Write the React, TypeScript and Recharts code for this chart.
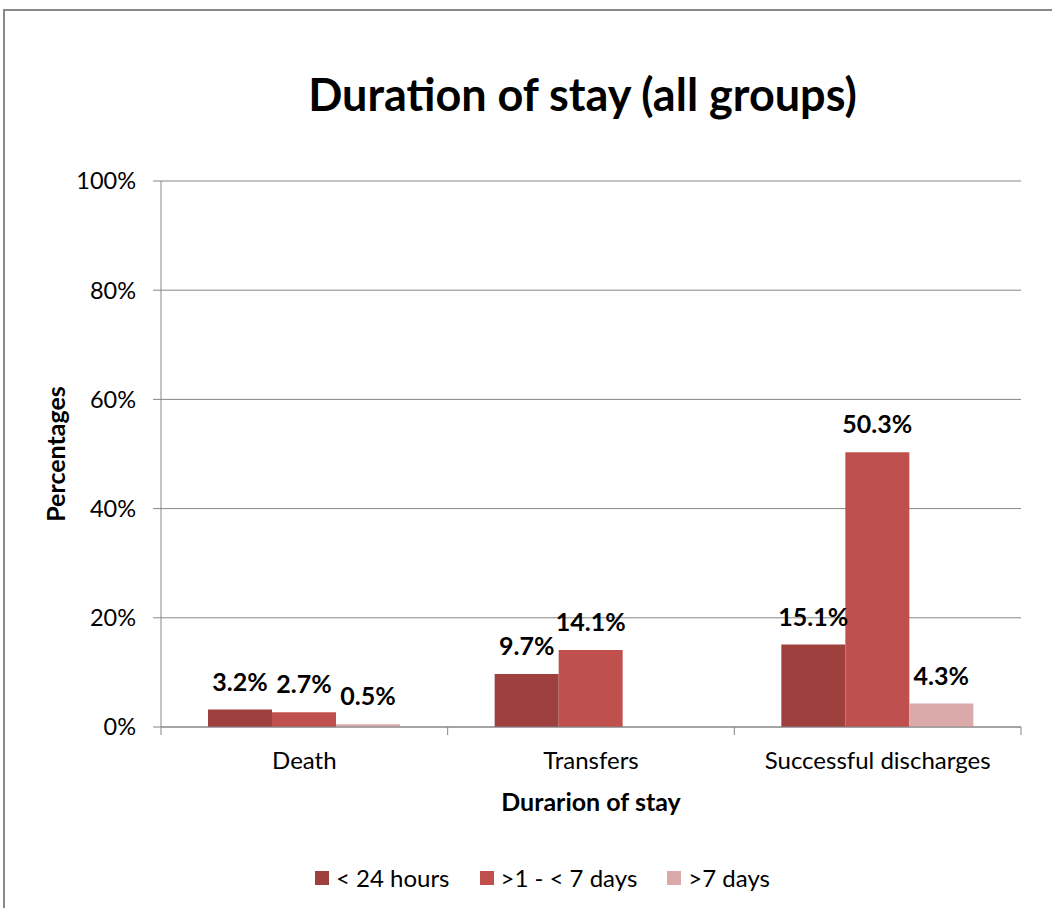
import React from 'react';
import { BarChart, Bar, XAxis, YAxis, CartesianGrid, Legend, LabelList, Label } from 'recharts';

const categories = ['Death', 'Transfers', 'Successful discharges'];
const seriesNames = ['< 24 hours', '>1 - < 7 days', '>7 days'];
const under24h = [3.2, 9.7, 15.1];
const oneTo7d = [2.7, 14.1, 50.3];
const over7d = [0.5, null, 4.3];
const yTicks = [0, 20, 40, 60, 80, 100];
const colors = ['#9D403E', '#C0504D', '#D9AAA9'];

const data = categories.map((c, i) => ({
  name: c,
  s0: under24h[i],
  s1: oneTo7d[i],
  s2: over7d[i],
}));

const W = 1052;
const H = 908;
const M_LEFT = 161;
const M_RIGHT = 31;
const PLOT_W = W - M_LEFT - M_RIGHT;
const BAND = PLOT_W / categories.length;
const FONT = 'Lato, "Open Sans", sans-serif';
const AXIS = '#868686';

const XTick = (props: any) => {
  const { x, y, payload, index } = props;
  const left = x - BAND / 2;
  const right = x + BAND / 2;
  return (
    <g>
      <line x1={left} y1={y} x2={left} y2={y + 8} stroke={AXIS} strokeWidth={1} />
      {index === categories.length - 1 && (
        <line x1={right} y1={y} x2={right} y2={y + 8} stroke={AXIS} strokeWidth={1} />
      )}
      <text x={x} y={y + 42} textAnchor="middle" fontFamily={FONT} fontSize={24} fill="#000">
        {payload.value}
      </text>
    </g>
  );
};

const LegendContent = () => (
  <div style={{ position: 'relative', height: 60 }}>
    <div
      style={{
        position: 'absolute',
        left: 315,
        top: 15,
        display: 'flex',
        alignItems: 'center',
        gap: 30,
        fontFamily: FONT,
        fontSize: 24,
        color: '#000',
        whiteSpace: 'nowrap',
      }}
    >
      {seriesNames.map((n, i) => (
        <div key={n} style={{ display: 'flex', alignItems: 'center' }}>
          <span style={{ display: 'inline-block', width: 14, height: 14, background: colors[i], marginRight: 7 }} />
          <span>{n}</span>
        </div>
      ))}
    </div>
  </div>
);

const fmt = (v: any) => (v === null || v === undefined ? '' : `${Number(v).toFixed(1)}%`);

export default function App() {
  return (
    <div style={{ position: 'absolute', left: 0, top: 0, width: W, height: H, overflow: 'hidden', background: '#fff' }}>
      <div
        style={{
          position: 'absolute',
          left: 3,
          top: 9,
          width: 2000,
          height: 2000,
          borderLeft: '2px solid #888',
          borderTop: '2px solid #888',
        }}
      />
      <div
        style={{
          position: 'absolute',
          left: 0,
          width: 1165,
          top: 66,
          textAlign: 'center',
          fontFamily: FONT,
          fontWeight: 700,
          fontSize: 45,
          color: '#000',
          lineHeight: '56px',
        }}
      >
        Duration of stay (all groups)
      </div>
      <div style={{ position: 'absolute', left: 0, top: 0 }}>
        <BarChart
          width={W}
          height={H}
          data={data}
          margin={{ top: 181, right: M_RIGHT, bottom: 0, left: 0 }}
          barCategoryGap={47}
          barGap={0}
        >
          <CartesianGrid vertical={false} stroke={AXIS} strokeWidth={1} />
          <XAxis
            dataKey="name"
            height={121}
            tickLine={false}
            tickSize={0}
            tickMargin={0}
            axisLine={{ stroke: AXIS, strokeWidth: 1 }}
            tick={<XTick />}
            interval={0}
          >
            <Label
              content={(p: any) => {
                const vb = p.viewBox || {};
                return (
                  <text
                    x={vb.x + vb.width / 2}
                    y={811}
                    textAnchor="middle"
                    fontFamily={FONT}
                    fontWeight={700}
                    fontSize={25}
                    fill="#000"
                  >
                    Durarion of stay
                  </text>
                );
              }}
            />
          </XAxis>
          <YAxis
            width={M_LEFT}
            domain={[0, 100]}
            ticks={yTicks}
            tickFormatter={(v: number) => `${v}%`}
            tickSize={8}
            tickMargin={17}
            tickLine={{ stroke: AXIS, strokeWidth: 1 }}
            axisLine={{ stroke: AXIS, strokeWidth: 1 }}
            tick={{ fontFamily: FONT, fontSize: 23.5, fill: '#000' }}
            interval={0}
          >
            <Label
              content={(p: any) => {
                const vb = p.viewBox || {};
                const cy = vb.y + vb.height / 2;
                return (
                  <text
                    x={55}
                    y={cy}
                    transform={`rotate(-90 55 ${cy})`}
                    textAnchor="middle"
                    dominantBaseline="central"
                    fontFamily={FONT}
                    fontWeight={700}
                    fontSize={25}
                    fill="#000"
                  >
                    Percentages
                  </text>
                );
              }}
            />
          </YAxis>
          <Legend verticalAlign="bottom" height={60} content={<LegendContent />} wrapperStyle={{ height: 60 }} />
          {['s0', 's1', 's2'].map((k, i) => (
            <Bar key={k} dataKey={k} name={seriesNames[i]} fill={colors[i]} isAnimationActive={false}>
              <LabelList
                dataKey={k}
                position="top"
                offset={19}
                formatter={fmt}
                style={{ fontFamily: FONT, fontWeight: 700, fontSize: 25, fill: '#000' }}
              />
            </Bar>
          ))}
        </BarChart>
      </div>
    </div>
  );
}
